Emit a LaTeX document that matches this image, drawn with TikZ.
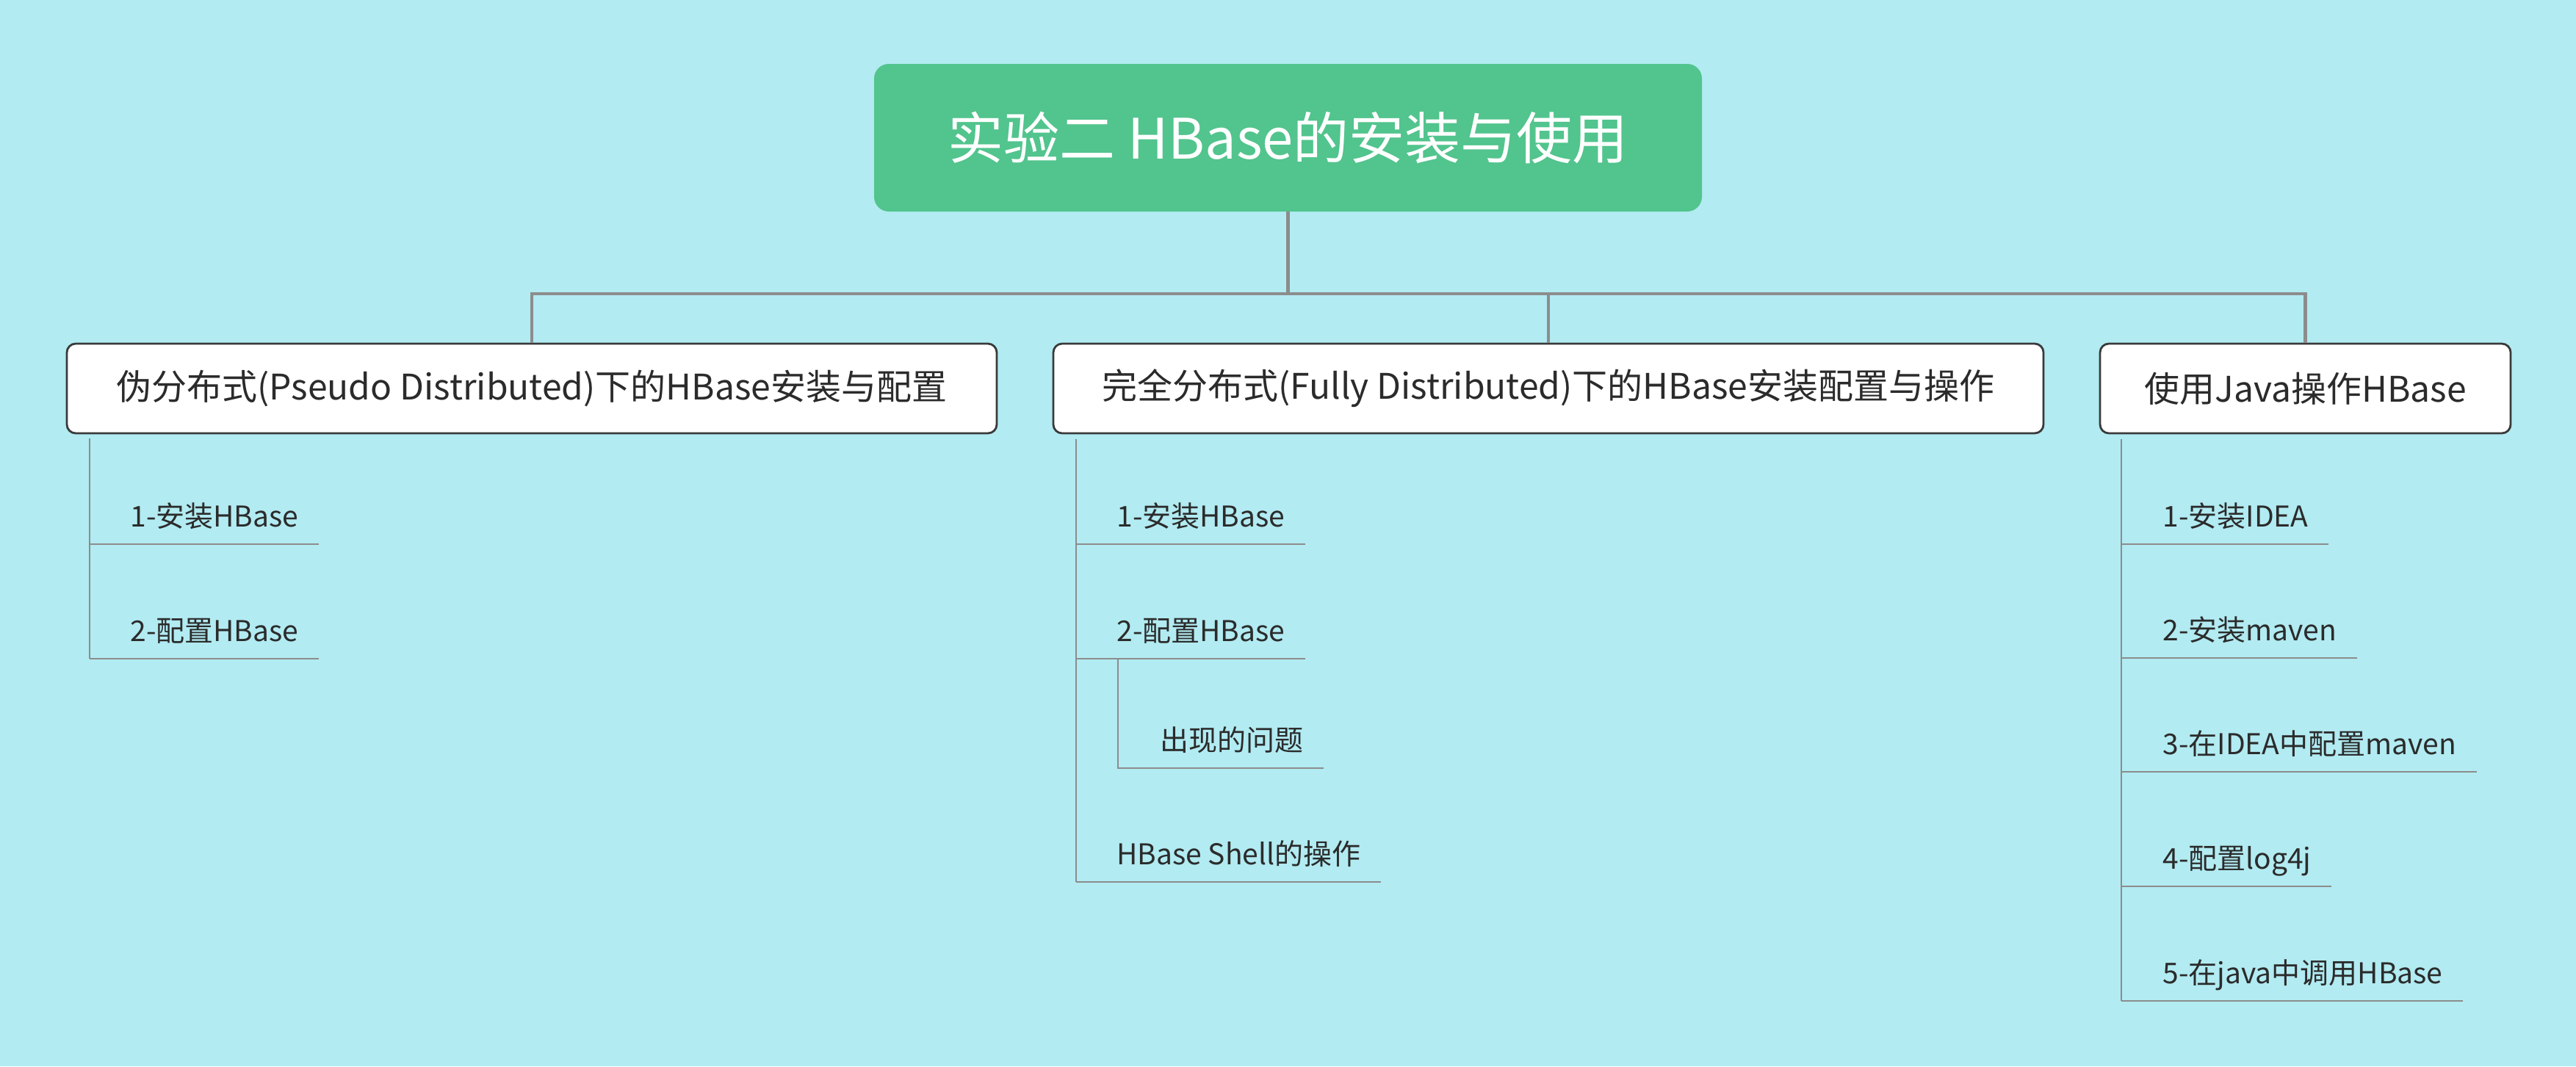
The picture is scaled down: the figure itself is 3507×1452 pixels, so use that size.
\documentclass[tikz,border=0pt]{standalone}
\usepackage{fontspec}
\setmainfont{Noto Sans CJK SC}
\usetikzlibrary{calc}
\definecolor{bgc}{HTML}{B2EBF2}
\definecolor{rootc}{HTML}{52C48D}
\definecolor{linec}{HTML}{8C8C8C}
\definecolor{boxc}{HTML}{3A3A3A}
\definecolor{txtc}{HTML}{2B2B2B}
\tikzset{
  rootbox/.style={fill=rootc, rounded corners=10pt, text=white, font=\fontsize{38}{40}\selectfont, minimum width=563.5pt, minimum height=100.5pt, inner sep=0pt},
  topicbox/.style={draw=boxc, line width=1.4pt, fill=white, rounded corners=6pt, text=txtc, font=\fontsize{24}{26}\selectfont, minimum height=61pt, inner sep=0pt},
  itemtext/.style={anchor=base west, inner sep=0pt, text=txtc, font=\fontsize{19.5}{21}\selectfont},
  trunk/.style={draw=linec, line width=2.2pt},
  branch/.style={draw=linec, line width=1.3pt},
}
\begin{document}
\begin{tikzpicture}[x=0.5pt,y=-0.5pt]
\fill[bgc] (0,0) rectangle (3507,1452);
\useasboundingbox (0,0) rectangle (3507,1452);

\node[rootbox] (root) at (1753.5,187.5) {实验二 HBase的安装与使用};
\node[topicbox, minimum width=633pt] (c1) at (724,529) {伪分布式(Pseudo Distributed)下的HBase安装与配置};
\node[topicbox, minimum width=674pt] (c2) at (2108,529) {完全分布式(Fully Distributed)下的HBase安装配置与操作};
\node[topicbox, minimum width=279.5pt] (c3) at (3138.5,529) {使用Java操作HBase};

\coordinate (bar) at (0,400);
\draw[trunk] (root.south) -- (root.south |- bar);
\draw[trunk] (c1.north) -- (c1.north |- bar) -- (c3.north |- bar) -- (c3.north);
\draw[trunk] (c2.north) -- (c2.north |- bar);

% child 1 items
\node[itemtext] (a1) at (177,717) {1-安装HBase};
\node[itemtext] (a2) at (177,873) {2-配置HBase};
\draw[branch] (122,597) -- (122,897);
\draw[branch] (122,741) -- ($(a1.base east)+(27,24)$);
\draw[branch] (122,897) -- ($(a2.base east)+(27,24)$);

% child 2 items
\node[itemtext] (b1) at (1520,717) {1-安装HBase};
\node[itemtext] (b2) at (1520,873) {2-配置HBase};
\node[itemtext] (b21) at (1579,1022) {出现的问题};
\node[itemtext] (b3) at (1520,1177) {HBase Shell的操作};
\draw[branch] (1465,598) -- (1465,1201);
\draw[branch] (1465,741) -- ($(b1.base east)+(27,24)$);
\draw[branch] (1465,897) -- ($(b2.base east)+(27,24)$);
\draw[branch] (1522,897) -- (1522,1046) -- ($(b21.base east)+(27,24)$);
\draw[branch] (1465,1201) -- ($(b3.base east)+(27,24)$);

% child 3 items
\node[itemtext] (d1) at (2944,717) {1-安装IDEA};
\node[itemtext] (d2) at (2944,872) {2-安装maven};
\node[itemtext] (d3) at (2944,1027) {3-在IDEA中配置maven};
\node[itemtext] (d4) at (2944,1183) {4-配置log4j};
\node[itemtext] (d5) at (2944,1339) {5-在java中调用HBase};
\draw[branch] (2888,598) -- (2888,1363);
\draw[branch] (2888,741) -- ($(d1.base east)+(27,24)$);
\draw[branch] (2888,896) -- ($(d2.base east)+(27,24)$);
\draw[branch] (2888,1051) -- ($(d3.base east)+(27,24)$);
\draw[branch] (2888,1207) -- ($(d4.base east)+(27,24)$);
\draw[branch] (2888,1363) -- ($(d5.base east)+(27,24)$);
\end{tikzpicture}
\end{document}
